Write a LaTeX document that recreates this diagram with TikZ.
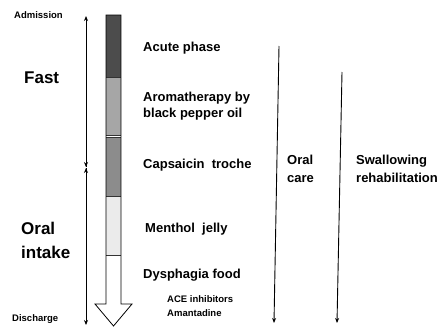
\documentclass[tikz,border=0pt]{standalone}
\usepackage{fontspec}
\setmainfont{Liberation Sans}
\usetikzlibrary{arrows.meta}
\begin{document}
\begin{tikzpicture}[x=1pt,y=-1pt,
  lbl/.style={font=\bfseries\fontsize{13}{16}\selectfont, anchor=west, inner sep=0pt, align=left},
  lblw/.style={font=\bfseries\fontsize{13}{18}\selectfont, anchor=west, inner sep=0pt, align=left},
  big/.style={font=\bfseries\fontsize{17}{24}\selectfont, anchor=west, inner sep=0pt, align=left},
  small/.style={font=\bfseries\fontsize{9.5}{14}\selectfont, anchor=west, inner sep=0pt, align=left},
  arr/.style={line width=0.9pt, -{Stealth[length=5pt,width=4pt]}},
  seg/.style={draw=black!80, line width=0.5pt}]
\useasboundingbox (0,0) rectangle (441,327);
% left time arrows
\coordinate (fa) at (86,167);
\coordinate (fb) at (86,16);
\coordinate (oa) at (86,168);
\coordinate (ob) at (86,325);
\draw[arr] (fa) -- (fb);
\draw[arr] (fb |- 20,30) -- (fa);
\draw[arr] (oa) -- (ob);
\draw[arr] (ob |- 20,300) -- (oa);
% bar
\fill[black!70] (106,15) rectangle (121,77);
\fill[black!35] (106,77) rectangle (121,135);
\fill[black!45] (106,137) rectangle (121,196);
\fill[black!8] (106,196) rectangle (121,255);
\draw[seg] (106,77) -- (121,77);
\draw[seg] (106,135) -- (121,135);
\draw[seg] (106,137) -- (121,137);
\draw[seg] (106,196) -- (121,196);
\draw[seg] (106,255) -- (121,255);
\draw[line width=0.8pt] (106,15) -- (121,15) -- (121,304) -- (132,304) -- (113.5,326) -- (95,304) -- (106,304) -- cycle;
% labels left
\node[small] (adm) at (14,15) {Admission};
\node[small] (dis) at (12,319) {Discharge};
\node[big] (fast) at (24,78) {Fast};
\node[big] (oral) at (21,240) {Oral\\intake};
% bar labels
\node[lbl] (acute) at (143,48) {Acute phase};
\node[lbl] (aroma) at (143,106) {Aromatherapy by\\black pepper oil};
\node[lbl] (caps) at (143,165) {Capsaicin\ \ troche};
\node[lbl] (ment) at (145,229) {Menthol\ \ jelly};
\node[lbl] (dysp) at (143,275) {Dysphagia food};
\node[small] (ace) at (167,306) {ACE inhibitors\\Amantadine};
% right arrows
\coordinate (oc1) at (279,46);
\coordinate (oc2) at (274,323);
\coordinate (sw1) at (342,72);
\coordinate (sw2) at (337,323);
\draw[arr] (oc1) -- (oc2);
\draw[arr] (sw1) -- (sw2);
\node[lblw] (ocare) at (287,169) {Oral\\care};
\node[lblw] (swal) at (356,169) {Swallowing\\rehabilitation};
\end{tikzpicture}
\end{document}
